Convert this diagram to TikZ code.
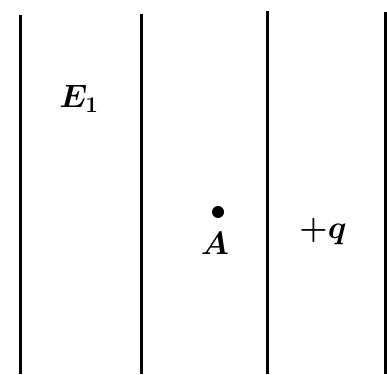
\documentclass[tikz,border=0pt]{standalone}
\usepackage{amsmath}
\begin{document}
\begin{tikzpicture}[x=1pt,y=1pt,
  plate/.style={line width=3pt},
  blbl/.style={inner sep=0pt, scale=1.3, font=\fontsize{24}{28}\selectfont\mathversion{bold}}]
\useasboundingbox (0,0) rectangle (387,374);
\coordinate (t1) at (20,359); \coordinate (b1) at (20,0);
\coordinate (t2) at (141,360); \coordinate (b2) at (141,0);
\coordinate (t3) at (267,363); \coordinate (b3) at (267,0);
\coordinate (t4) at (385,362); \coordinate (b4) at (385,0);
\draw[plate] (t1) -- (b1);
\draw[plate] (t2) -- (b2);
\draw[plate] (t3) -- (b3);
\draw[plate] (t4) -- (b4);
\node[blbl] (E) at (79,275) {$E_1$};
\node[circle, fill=black, inner sep=0pt, minimum size=12pt] (dot) at (218,162) {};
\node[blbl] (A) at (215,131) {$A$};
\node[blbl] (q) at (323,142) {$+q$};
\end{tikzpicture}
\end{document}
